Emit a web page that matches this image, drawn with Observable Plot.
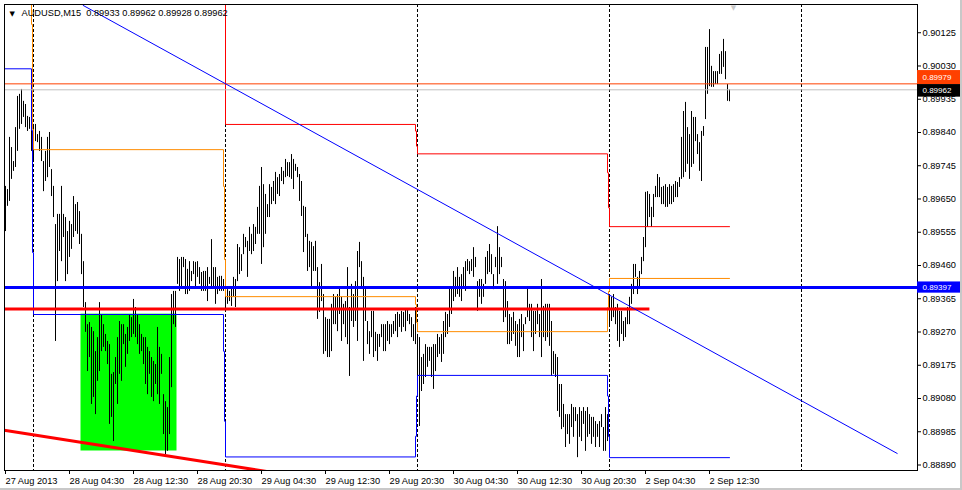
<!DOCTYPE html>
<html><head><meta charset="utf-8">
<script src="https://cdn.jsdelivr.net/npm/d3@7"></script>
<script src="https://cdn.jsdelivr.net/npm/@observablehq/plot@0.6"></script>
<style>
html,body{margin:0;padding:0;background:#fff;}
#wrap{position:relative;width:962px;height:490px;overflow:hidden;background:#fff;}
#wrap svg{display:block;}
.edgeR{position:absolute;right:0;top:0;width:2px;height:490px;background:#c8c8c8;}
.edgeB{position:absolute;left:0;bottom:0;width:962px;height:2px;background:#c8c8c8;}
</style></head><body><div id="wrap"><div class="edgeR"></div><div class="edgeB"></div></div>
<script>
const symbolLabel = "AUDUSD,M15";
const lastOHLC = [0.89933, 0.89962, 0.89928, 0.89962];

// bar highs / lows, one per M15 bar starting 27 Aug 2013 20:30
const highs = [
0.89686,0.89677,0.89826,0.89797,0.89757,0.89854,0.89943,0.89949,0.89963,0.89929,
0.89920,0.89886,0.89883,0.89934,0.89863,0.89863,0.89834,0.89843,0.89826,0.89757,
0.89786,0.89826,0.89840,0.89734,0.89686,0.89577,0.89606,0.89606,0.89686,0.89606,
0.89597,0.89557,0.89586,0.89577,0.89657,0.89634,0.89640,0.89614,0.89549,0.89471,
0.89354,0.89291,0.89297,0.89283,0.89271,0.89214,0.89254,0.89354,0.89320,0.89291,
0.89263,0.89243,0.89234,0.89149,0.89154,0.89197,0.89254,0.89300,0.89291,0.89291,
0.89263,0.89283,0.89320,0.89311,0.89363,0.89340,0.89320,0.89291,0.89263,0.89254,
0.89254,0.89226,0.89214,0.89197,0.89186,0.89177,0.89283,0.89226,0.89206,0.89091,
0.89071,0.89054,0.89197,0.89377,0.89386,0.89386,0.89483,0.89477,0.89483,0.89483,
0.89477,0.89449,0.89471,0.89443,0.89471,0.89469,0.89471,0.89454,0.89440,0.89443,
0.89443,0.89454,0.89426,0.89534,0.89454,0.89454,0.89426,0.89429,0.89429,0.89420,
0.89400,0.89391,0.89386,0.89397,0.89426,0.89420,0.89520,0.89511,0.89491,0.89549,
0.89540,0.89529,0.89569,0.89549,0.89577,0.89569,0.89626,0.89686,0.89740,0.89691,
0.89663,0.89634,0.89691,0.89683,0.89700,0.89726,0.89711,0.89720,0.89740,0.89729,
0.89763,0.89754,0.89754,0.89777,0.89763,0.89749,0.89740,0.89720,0.89700,0.89629,
0.89626,0.89549,0.89529,0.89526,0.89514,0.89529,0.89454,0.89411,0.89463,0.89377,
0.89311,0.89306,0.89306,0.89349,0.89377,0.89369,0.89377,0.89400,0.89369,0.89349,
0.89357,0.89454,0.89340,0.89406,0.89377,0.89414,0.89500,0.89526,0.89471,0.89426,
0.89391,0.89300,0.89271,0.89329,0.89329,0.89269,0.89263,0.89263,0.89291,0.89291,
0.89291,0.89300,0.89291,0.89291,0.89300,0.89320,0.89326,0.89320,0.89329,0.89326,
0.89334,0.89334,0.89320,0.89311,0.89291,0.89340,0.89263,0.89254,0.89197,0.89206,
0.89234,0.89226,0.89226,0.89226,0.89234,0.89234,0.89263,0.89254,0.89263,0.89300,
0.89326,0.89320,0.89400,0.89397,0.89443,0.89426,0.89454,0.89426,0.89434,0.89454,
0.89471,0.89477,0.89471,0.89477,0.89511,0.89483,0.89414,0.89420,0.89420,0.89406,
0.89483,0.89500,0.89520,0.89491,0.89434,0.89483,0.89571,0.89511,0.89483,0.89420,
0.89414,0.89357,0.89320,0.89311,0.89326,0.89300,0.89291,0.89306,0.89320,0.89291,
0.89311,0.89400,0.89349,0.89349,0.89329,0.89329,0.89349,0.89320,0.89420,0.89343,
0.89349,0.89349,0.89349,0.89300,0.89214,0.89206,0.89197,0.89120,0.89120,0.89063,
0.89034,0.89034,0.89034,0.89063,0.89054,0.89054,0.89034,0.89054,0.89043,0.89054,
0.89043,0.89054,0.89034,0.89026,0.89026,0.89014,0.89006,0.89014,0.89034,0.88997,
0.89054,0.89034,0.89369,0.89369,0.89377,0.89340,0.89349,0.89329,0.89329,0.89300,
0.89311,0.89340,0.89369,0.89406,0.89463,0.89463,0.89426,0.89443,0.89483,0.89540,
0.89669,0.89671,0.89663,0.89626,0.89663,0.89686,0.89720,0.89711,0.89683,0.89686,
0.89691,0.89683,0.89691,0.89686,0.89691,0.89700,0.89697,0.89711,0.89826,0.89900,
0.89926,0.89854,0.89834,0.89900,0.89883,0.89883,0.89834,0.89811,0.89843,0.89857,
0.90083,0.90083,0.90134,0.90029,0.90014,0.90014,0.90014,0.90063,0.90071,0.90106,
0.90071,0.89977,0.89962
];
const lows = [
0.89557,0.89629,0.89643,0.89706,0.89729,0.89740,0.89786,0.89849,0.89863,0.89883,
0.89854,0.89843,0.89849,0.89786,0.89757,0.89814,0.89811,0.89786,0.89757,0.89671,
0.89700,0.89711,0.89740,0.89657,0.89597,0.89243,0.89414,0.89500,0.89471,0.89540,
0.89414,0.89434,0.89483,0.89506,0.89540,0.89557,0.89549,0.89520,0.89434,0.89340,
0.89269,0.89157,0.89197,0.89063,0.89083,0.89034,0.89129,0.89157,0.89214,0.89226,
0.89214,0.89177,0.89006,0.89026,0.88957,0.89120,0.89063,0.89149,0.89129,0.89234,
0.89169,0.89206,0.89243,0.89254,0.89263,0.89254,0.89234,0.89206,0.89214,0.89177,
0.89120,0.89091,0.89149,0.89083,0.89071,0.89120,0.89091,0.89063,0.89149,0.88977,
0.88920,0.88929,0.88977,0.89111,0.89291,0.89283,0.89406,0.89386,0.89397,0.89454,
0.89377,0.89377,0.89386,0.89414,0.89434,0.89397,0.89426,0.89406,0.89386,0.89386,
0.89386,0.89357,0.89406,0.89397,0.89397,0.89349,0.89377,0.89386,0.89386,0.89386,
0.89329,0.89349,0.89357,0.89343,0.89369,0.89340,0.89414,0.89434,0.89443,0.89491,
0.89511,0.89426,0.89500,0.89491,0.89500,0.89520,0.89549,0.89549,0.89463,0.89511,
0.89549,0.89597,0.89597,0.89634,0.89643,0.89634,0.89663,0.89657,0.89700,0.89691,
0.89711,0.89714,0.89711,0.89706,0.89677,0.89729,0.89711,0.89643,0.89600,0.89497,
0.89540,0.89443,0.89454,0.89397,0.89443,0.89443,0.89306,0.89326,0.89357,0.89206,
0.89214,0.89197,0.89197,0.89214,0.89291,0.89291,0.89271,0.89320,0.89243,0.89291,
0.89254,0.89234,0.89143,0.89300,0.89283,0.89300,0.89243,0.89454,0.89397,0.89186,
0.89300,0.89234,0.89206,0.89254,0.89197,0.89214,0.89186,0.89226,0.89254,0.89214,
0.89214,0.89243,0.89234,0.89254,0.89263,0.89271,0.89254,0.89283,0.89269,0.89283,
0.89271,0.89300,0.89291,0.89254,0.89243,0.89234,0.89120,0.89000,0.89100,0.89120,
0.89140,0.89169,0.89186,0.89140,0.89106,0.89157,0.89197,0.89206,0.89183,0.89206,
0.89254,0.89263,0.89283,0.89320,0.89357,0.89369,0.89377,0.89369,0.89357,0.89397,
0.89386,0.89443,0.89434,0.89443,0.89426,0.89454,0.89329,0.89369,0.89349,0.89369,
0.89406,0.89434,0.89440,0.89434,0.89391,0.89454,0.89406,0.89434,0.89454,0.89297,
0.89311,0.89234,0.89234,0.89243,0.89263,0.89229,0.89197,0.89197,0.89254,0.89214,
0.89291,0.89311,0.89300,0.89254,0.89214,0.89263,0.89291,0.89254,0.89197,0.89254,
0.89243,0.89254,0.89229,0.89143,0.89149,0.89140,0.89043,0.89026,0.88991,0.88997,
0.88940,0.88977,0.88949,0.88997,0.88969,0.89014,0.88911,0.88969,0.88957,0.89006,
0.88929,0.88969,0.88977,0.88949,0.88969,0.88940,0.88969,0.88940,0.88997,0.88929,
0.88929,0.88957,0.89291,0.89300,0.89311,0.89291,0.89243,0.89226,0.89263,0.89243,
0.89254,0.89291,0.89291,0.89349,0.89377,0.89426,0.89377,0.89397,0.89434,0.89471,
0.89511,0.89569,0.89597,0.89569,0.89597,0.89654,0.89654,0.89654,0.89634,0.89634,
0.89626,0.89626,0.89634,0.89634,0.89640,0.89654,0.89654,0.89683,0.89706,0.89711,
0.89726,0.89749,0.89706,0.89740,0.89749,0.89814,0.89777,0.89729,0.89700,0.89829,
0.89877,0.89949,0.89971,0.89969,0.89969,0.89977,0.89977,0.90006,0.90006,0.90026,
0.89991,0.89929,0.89928
];

// time axis (bar index -> label)
const xTickBars = [0, 32, 64, 96, 128, 160, 192, 224, 256, 288, 320, 352];
const xTickLabels = ["27 Aug 2013", "28 Aug 04:30", "28 Aug 12:30", "28 Aug 20:30", "29 Aug 04:30", "29 Aug 12:30",
  "29 Aug 20:30", "30 Aug 04:30", "30 Aug 12:30", "30 Aug 20:30", "2 Sep 04:30", "2 Sep 12:30"];
const daySeparatorBars = [14, 110, 206, 302, 398];

// price axis
const yTicks = [0.90125, 0.90030, 0.89935, 0.89840, 0.89745, 0.89650, 0.89555, 0.89460, 0.89365,
  0.89270, 0.89175, 0.89080, 0.88985, 0.88890];

// daily levels (bar index, price) – high (red), middle (orange), low (blue)
const dayHighLine = [[110,0.9030],[110,0.89863],[205,0.89863],[205,0.89844],[205.5,0.89844],[205.5,0.89801],
  [206,0.89801],[206,0.89779],[301,0.89779],[301,0.89725],[301.5,0.89725],[301.5,0.89625],[302,0.89625],
  [302,0.89571],[362,0.89571]];
const dayMidLine = [[13,0.9030],[13,0.90149],[13.5,0.90149],[13.5,0.89849],[14,0.89849],[14,0.89791],
  [109,0.89791],[109,0.89686],[109.5,0.89686],[109.5,0.89477],[110,0.89477],[110,0.89371],[205,0.89371],
  [205,0.89349],[205.5,0.89349],[205.5,0.89297],[206,0.89297],[206,0.89271],[301,0.89271],[301,0.8934],
  [301.5,0.8934],[301.5,0.89386],[302,0.89386],[302,0.89423],[362,0.89423]];
const dayLowLine = [[-1,0.90022],[13,0.90022],[13,0.89846],[13.5,0.89846],[13.5,0.89497],[14,0.89497],
  [14,0.8932],[109,0.8932],[109,0.89215],[109.5,0.89215],[109.5,0.89015],[110,0.89015],[110,0.88913],
  [205,0.88913],[205,0.88972],[205.5,0.88972],[205.5,0.89087],[206,0.89087],[206,0.89146],[301,0.89146],
  [301,0.89087],[301.5,0.89087],[301.5,0.88971],[302,0.88971],[302,0.88911],[362,0.88911]];

// drawn objects
const askLevel = 0.89979, bidLevel = 0.89962;
const supportLevel = 0.89397;
const redLevel = {price: 0.89336, endBar: 322.2};
const trendLine = [[38.85, 0.90203], [445.85, 0.88923]];
const lowerTrend = [[-0.65, 0.889894], [140, 0.88863]];
const greenZone = {bar1: 37.75, bar2: 85.75, low: 0.8893, high: 0.89321};

const labelOf = new Map(xTickBars.map((b, i) => [b, xTickLabels[i]]));
const header = symbolLabel + "\u00a0\u00a0" + lastOHLC.map(v => v.toFixed(5)).join(" ");
// price labels on the axis: price, box top / bottom price
const askBox = {p: askLevel, top: 0.90017, bottom: 0.89977, fill: "#ff4000"};
const bidBox = {p: bidLevel, top: 0.89977, bottom: 0.89941, fill: "#000000"};
const supBox = {p: supportLevel, top: 0.89413, bottom: 0.89381, fill: "#0000ff"};
const FS = 9.25;
const boxText = (b, dy) => Plot.text([b], {y: "p", x: 456, dx: 5, dy, text: d => d.p.toFixed(5), textAnchor: "start", fill: "#fff", fontSize: 8});

const chart = Plot.plot({
  width: 962, height: 490,
  marginLeft: 4, marginRight: 45, marginTop: 4, marginBottom: 20,
  style: {fontFamily: "'Liberation Sans', Arial, sans-serif", fontSize: FS + "px", background: "transparent", color: "#000", overflow: "visible"},
  x: {type: "linear", domain: [-0.5, 456]},
  y: {type: "linear", domain: [0.8887429, 0.9020571]},
  marks: [
    Plot.rect([greenZone], {x1: "bar1", x2: "bar2", y1: "low", y2: "high", fill: "#00ff00"}),
    Plot.ruleX(daySeparatorBars, {stroke: "#000", strokeDasharray: "3,2", strokeWidth: 1}),
    Plot.ruleX(highs, {x: (d, i) => i, y1: (d, i) => lows[i], y2: d => d, stroke: "#000", strokeWidth: 1}),
    Plot.line(dayHighLine, {x: d => d[0], y: d => d[1], stroke: "#ff0000", strokeWidth: 1, clip: true}),
    Plot.line(dayMidLine, {x: d => d[0], y: d => d[1], stroke: "#ff8c00", strokeWidth: 1, clip: true}),
    Plot.line(dayLowLine, {x: d => d[0], y: d => d[1], stroke: "#0000ff", strokeWidth: 1, clip: true}),
    Plot.ruleY([askLevel], {stroke: "#ff4000", strokeWidth: 1}),
    Plot.ruleY([bidLevel], {stroke: "#c0c0c0", strokeWidth: 1}),
    Plot.ruleY([supportLevel], {stroke: "#0000ff", strokeWidth: 3}),
    Plot.ruleY([redLevel], {y: "price", x1: -0.5, x2: "endBar", stroke: "#ff0000", strokeWidth: 3}),
    Plot.line(trendLine, {x: d => d[0], y: d => d[1], stroke: "#0000ff", strokeWidth: 1, clip: true}),
    Plot.line(lowerTrend, {x: d => d[0], y: d => d[1], stroke: "#ff0000", strokeWidth: 3, clip: true}),
    Plot.frame({stroke: "#000"}),
    Plot.axisY(yTicks, {anchor: "right", tickSize: 3, tickPadding: 2, tickFormat: d => d.toFixed(5), label: null, fontSize: FS}),
    Plot.axisX(xTickBars, {anchor: "bottom", tickSize: 4, tickPadding: 3, tickFormat: d => labelOf.get(d), textAnchor: "start", label: null, fontSize: FS}),
    Plot.rect([askBox, bidBox, supBox], {x1: 456, x2: 478, y1: "bottom", y2: "top", fill: "fill"}),
    boxText(askBox, -6),
    boxText(bidBox, 1),
    boxText(supBox, 0),
    Plot.text([header], {frameAnchor: "top-left", dx: 17, dy: 5, lineAnchor: "top", textAnchor: "start", fontSize: FS, fill: "#000", text: d => d}),
    Plot.text(["\u25BC"], {frameAnchor: "top-left", dx: 5, dy: 7, lineAnchor: "top", textAnchor: "start", fontSize: 7, fill: "#000", fontFamily: "DejaVu Sans", text: d => d}),
    Plot.text(["\u25BC"], {x: 364, frameAnchor: "top", dy: 1, lineAnchor: "top", fontSize: 7, fill: "#c8c8c8", fontFamily: "DejaVu Sans", text: d => d})
  ]
});
document.getElementById("wrap").prepend(chart);
</script>
</body></html>
